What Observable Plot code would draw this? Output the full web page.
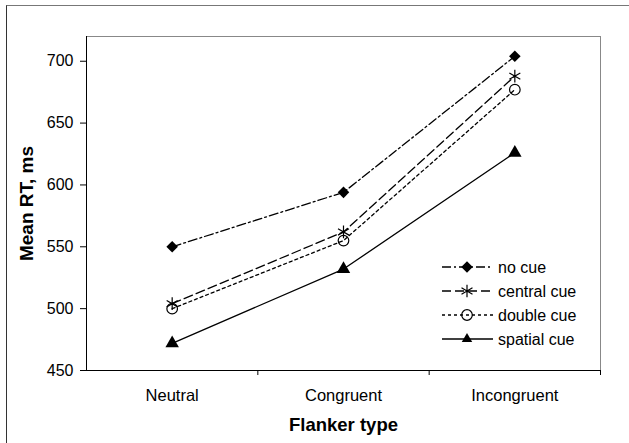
<!DOCTYPE html>
<html>
<head>
<meta charset="utf-8">
<script src="https://cdn.jsdelivr.net/npm/d3@7"></script>
<script src="https://cdn.jsdelivr.net/npm/@observablehq/plot@0.6"></script>
<style>
  html, body { margin: 0; padding: 0; background: #fff; }
  #wrap { position: relative; width: 629px; height: 443px; overflow: hidden; font-family: "Liberation Sans", Arial, sans-serif; }
  #border { position: absolute; left: 6px; top: 5px; width: 640px; height: 460px; border-left: 1px solid #333; border-top: 1px solid #777; pointer-events: none; }
  #legend { position: absolute; left: 0; top: 0; pointer-events: none; }
</style>
</head>
<body>
<div id="wrap"><div id="border"></div></div>
<script>
const categories = ["Neutral", "Congruent", "Incongruent"];
const seriesNames = ["no cue", "central cue", "double cue", "spatial cue"];
const noCue = [550, 594, 704];
const centralCue = [504, 562, 688];
const doubleCue = [500, 555, 677];
const spatialCue = [472, 532, 626];
const yTicks = [450, 500, 550, 600, 650, 700];

const seriesValues = [noCue, centralCue, doubleCue, spatialCue];
const styles = {
  "no cue": {dash: "9,3,2,3", symbol: "diamond2", fill: "black", r: 5.2},
  "central cue": {dash: "9,4", symbol: "asterisk", fill: "none", r: 6.0},
  "double cue": {dash: "3,3", symbol: "circle", fill: "none", r: 5.3},
  "spatial cue": {dash: null, symbol: "triangle", fill: "black", r: 5.0}
};
const rows = [];
seriesNames.forEach((s, si) => {
  seriesValues[si].forEach((v, i) => rows.push({series: s, idx: i, cat: categories[i], value: v}));
});

const marks = [
  Plot.frame({stroke: "#888"}),
  Plot.ruleY([450], {stroke: "#000"}),
  Plot.ruleX([-0.5], {stroke: "#000"}),
  Plot.axisY({ticks: yTicks, tickSize: 6, tickPadding: 7, fontSize: 16, label: null}),
  Plot.axisX({ticks: categories.map((c, i) => i), tickFormat: i => categories[i], tickSize: 0, tickPadding: 19, fontSize: 16.5, label: null}),
  Plot.axisX({ticks: categories.map((c, i) => i + 0.5), tickFormat: () => "", tickSize: 5, label: null}),
  Plot.text(["Mean RT, ms"], {frameAnchor: "left", dx: -60, rotate: -90, textAnchor: "middle", lineAnchor: "middle", fontWeight: "bold", fontSize: 19}),
  Plot.text(["Flanker type"], {frameAnchor: "bottom", dy: 55, textAnchor: "middle", lineAnchor: "middle", fontWeight: "bold", fontSize: 18.5})
];
seriesNames.forEach(s => {
  const d = rows.filter(r => r.series === s);
  const st = styles[s];
  marks.push(Plot.line(d, {x: "idx", y: "value", stroke: "black", strokeWidth: 1.3, strokeDasharray: st.dash}));
  marks.push(Plot.dot(d, {x: "idx", y: "value", symbol: () => st.symbol, r: st.r,
    fill: st.fill, stroke: "black", strokeWidth: st.fill === "none" ? 1.2 : 0}));
});

const chart = Plot.plot({
  width: 629,
  height: 443,
  marginLeft: 86,
  marginTop: 36,
  marginRight: 29,
  marginBottom: 73,
  style: {fontFamily: "'Liberation Sans', Arial, sans-serif", fontSize: "16px", color: "#000", background: "transparent"},
  x: {domain: [-0.5, 2.5], axis: null},
  y: {domain: [450, 720], axis: null},
  symbol: {type: "identity"},
  marks
});
const wrap = document.getElementById("wrap");
wrap.insertBefore(chart, wrap.firstChild);

// legend
const lg = d3.select(wrap).append("svg").attr("id", "legend").attr("width", 629).attr("height", 443)
  .style("font-family", "'Liberation Sans', Arial, sans-serif");
const symMap = {diamond2: d3.symbolDiamond2, asterisk: d3.symbolAsterisk, circle: d3.symbolCircle, triangle: d3.symbolTriangle2};
seriesNames.forEach((s, i) => {
  const st = styles[s];
  const y = 267 + i * 24;
  const g = lg.append("g").attr("transform", `translate(0,${y})`);
  g.append("line").attr("x1", 442).attr("x2", 493).attr("y1", 0).attr("y2", 0)
    .attr("stroke", "black").attr("stroke-width", 1.3).attr("stroke-dasharray", st.dash);
  g.append("path").attr("transform", "translate(467,0)")
    .attr("d", d3.symbol(symMap[st.symbol], Math.PI * st.r * st.r)())
    .attr("fill", st.fill).attr("stroke", st.fill === "none" ? "black" : "none").attr("stroke-width", 1.2);
  g.append("text").attr("x", 498).attr("y", 0).attr("dy", "0.35em").attr("font-size", 16).text(s);
});
</script>
</body>
</html>
